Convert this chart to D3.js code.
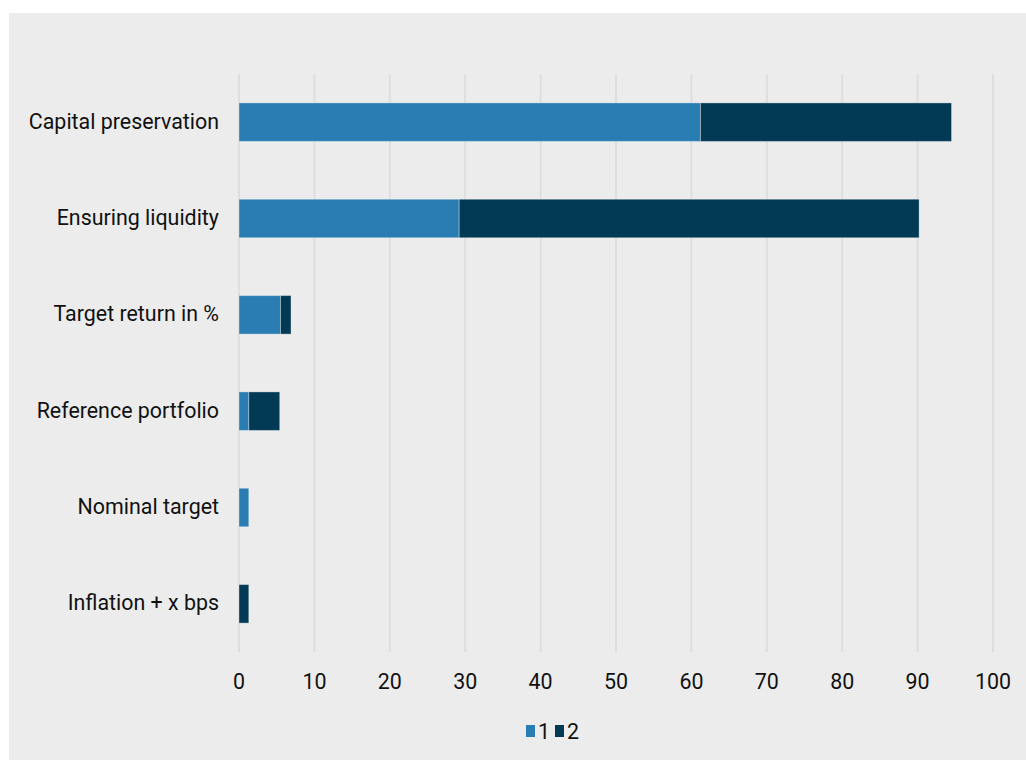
<!DOCTYPE html>
<meta charset="utf-8">
<style>
  body { margin: 0; background: #fff; font-family: Roboto, "Noto Sans", sans-serif; }
  .grid line { stroke: #dedede; stroke-width: 2px; }
  .lbl { font-size: 21.4px; fill: #111; }
</style>
<body>
<script src="https://cdn.jsdelivr.net/npm/d3@7"></script>
<script>

// chart data
var categories = ["Capital preservation", "Ensuring liquidity", "Target return in %",
                  "Reference portfolio", "Nominal target", "Inflation + x bps"];
var series1 = [61.2, 29.2, 5.5, 1.3, 1.3, 0];
var series2 = [33.3, 61.0, 1.4, 4.1, 0, 1.3];
var seriesNames = ["1", "2"];
var xTicks = [0, 10, 20, 30, 40, 50, 60, 70, 80, 90, 100];
var colors = ["#2a7db2", "#023a55"];

var W = 1026, H = 761;
var margin = {top: 74, left: 239, right: 33, bottom: 109};
var width = W - margin.left - margin.right,
    height = H - margin.top - margin.bottom;

var svg = d3.select("body").append("svg")
    .attr("width", W)
    .attr("height", H);

// gray panel
svg.append("rect")
    .attr("x", 9).attr("y", 13)
    .attr("width", W - 9).attr("height", 747)
    .attr("fill", "#ececec");

var g = svg.append("g")
    .attr("transform", "translate(" + margin.left + "," + margin.top + ")");

var x = d3.scaleLinear().domain([0, 100]).range([0, width]);
var y = d3.scaleBand().domain(categories).range([0, height]).paddingInner(0.6).paddingOuter(0.3);

// gridlines
g.append("g").attr("class", "grid")
  .selectAll("line").data(xTicks).enter().append("line")
    .attr("x1", function(d) { return x(d); })
    .attr("x2", function(d) { return x(d); })
    .attr("y1", 0).attr("y2", height);

// stack the series
var rows = categories.map(function(c, i) { return {cat: c, s1: series1[i], s2: series2[i]}; });
var stack = d3.stack().keys(["s1", "s2"])(rows);

g.selectAll(".layer").data(stack).enter().append("g")
    .attr("fill", function(d, i) { return colors[i]; })
  .selectAll("rect").data(function(d) { return d.filter(function(p) { return p[1] - p[0] > 0; }); })
  .enter().append("rect")
    .attr("x", function(d) { return x(d[0]); })
    .attr("y", function(d) { return y(d.data.cat); })
    .attr("width", function(d) { return x(d[1]) - x(d[0]); })
    .attr("height", y.bandwidth())
    .attr("stroke", "rgba(255,255,255,0.35)")
    .attr("stroke-width", 1);

// category labels
g.selectAll(".cat").data(categories).enter().append("text")
    .attr("class", "lbl")
    .attr("x", -20)
    .attr("y", function(d) { return y(d) + y.bandwidth() / 2; })
    .attr("dy", "0.3em")
    .attr("text-anchor", "end")
    .text(function(d) { return d; });

// x tick labels
g.selectAll(".tick-lbl").data(xTicks).enter().append("text")
    .attr("class", "lbl")
    .attr("x", function(d) { return x(d); })
    .attr("y", height + 30)
    .attr("dy", "0.35em")
    .attr("text-anchor", "middle")
    .text(function(d) { return d; });

// legend
var leg = svg.append("g").attr("transform", "translate(526,731)");
var items = leg.selectAll("g").data(seriesNames).enter().append("g")
    .attr("transform", function(d, i) { return "translate(" + (i * 29) + ",0)"; });
items.append("rect")
    .attr("x", 0).attr("y", -6)
    .attr("width", 9).attr("height", 12)
    .attr("fill", function(d, i) { return colors[i]; });
items.append("text")
    .attr("class", "lbl")
    .attr("x", 12).attr("y", 0)
    .attr("dy", "0.35em")
    .text(function(d) { return d; });

</script>
</body>
